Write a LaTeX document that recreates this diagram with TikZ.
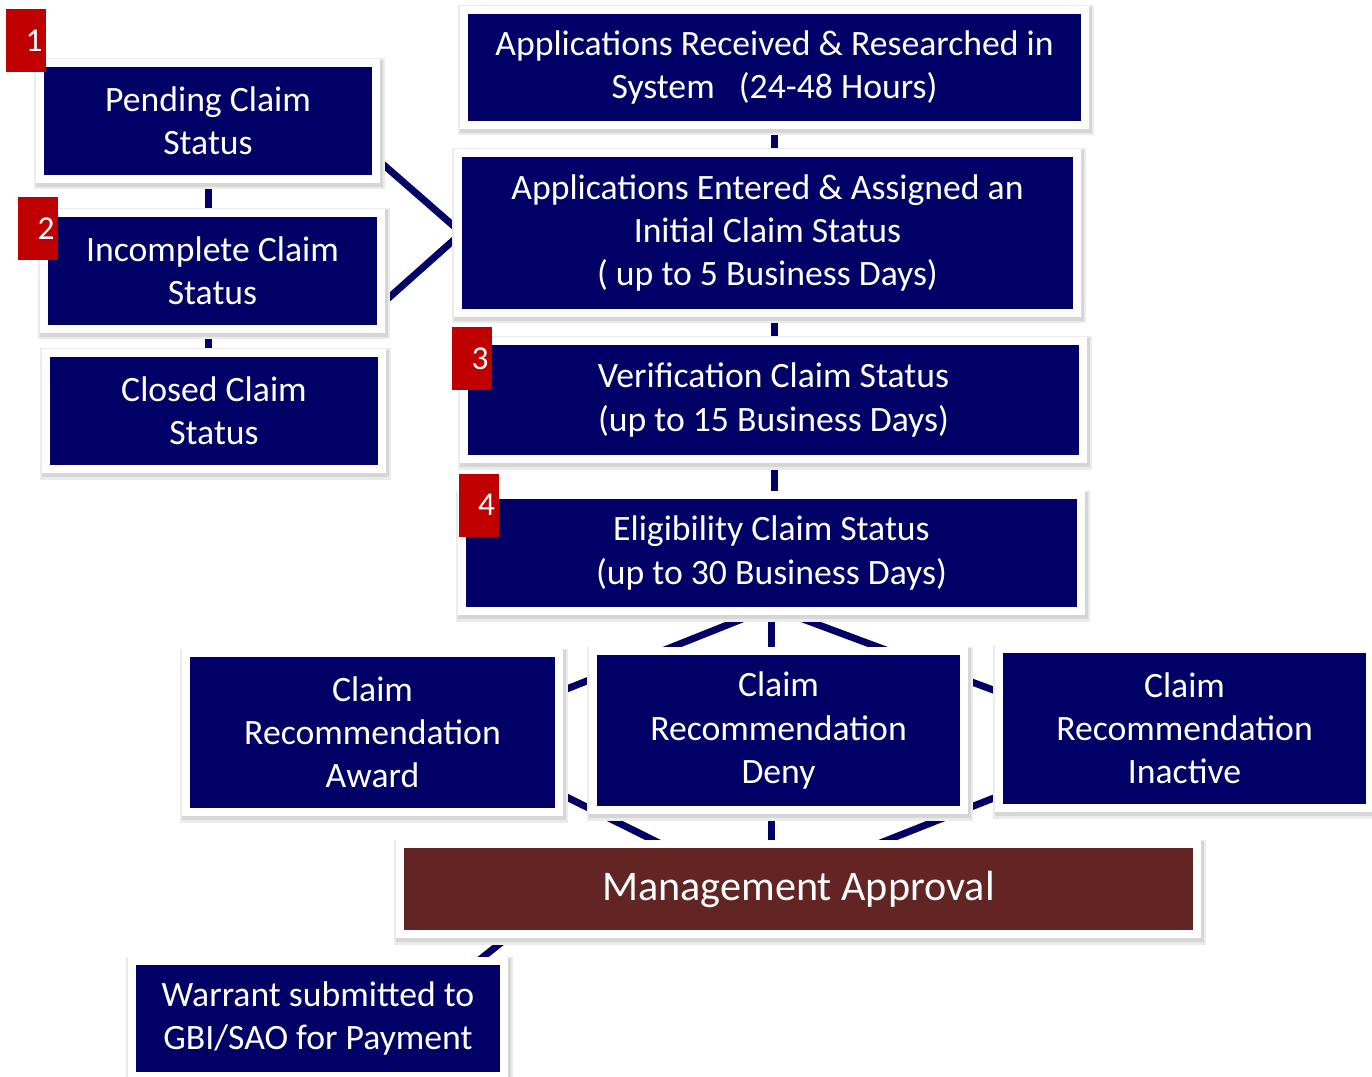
\documentclass[tikz,border=0pt]{standalone}
\usepackage{fontspec}
\setmainfont{Carlito}
\usetikzlibrary{backgrounds}
\definecolor{claimnavy}{RGB}{0,0,102}
\definecolor{mgmtbrown}{RGB}{99,37,35}
\definecolor{badgered}{RGB}{192,0,0}

\begin{document}
\begin{tikzpicture}[
    box/.style={rectangle, fill=claimnavy, text=white, align=center, inner sep=0pt,
        font=\fontsize{20.3}{24.5}\selectfont,
        preaction={draw=black!8, line width=0.46cm, transform canvas={xshift=0.03cm, yshift=-0.06cm}},
        preaction={draw=black!16, line width=0.38cm, transform canvas={xshift=0.02cm, yshift=-0.05cm}},
        preaction={draw=white, line width=0.32cm}},
    mgmtbox/.style={box, fill=mgmtbrown, font=\fontsize{24}{28}\selectfont},
    badge/.style={rectangle, fill=badgered, text=white, inner sep=0pt, minimum width=0.8cm,
        minimum height=1.26cm, text width=0.66cm, align=right, font=\fontsize{19}{20}\selectfont},
    link/.style={draw=claimnavy, line width=0.14cm}]
    \path[use as bounding box, clip] (0,0) rectangle (27.44,-21.54);

    % Left column
    \node[box, minimum width=6.56cm, minimum height=2.16cm] (pend) at (4.16,-2.42) {Pending Claim\\Status};
    \node[box, minimum width=6.58cm, minimum height=2.16cm] (incomp) at (4.25,-5.42) {Incomplete Claim\\Status};
    \node[box, minimum width=6.56cm, minimum height=2.16cm] (closed) at (4.28,-8.22) {Closed Claim\\Status};

    % Right column
    \node[box, minimum width=12.26cm, minimum height=2.14cm] (received) at (15.49,-1.35) {Applications Received \& Researched in\\System~~~(24-48 Hours)};
    \node[box, minimum width=12.22cm, minimum height=3.04cm] (entered) at (15.35,-4.66) {Applications Entered \& Assigned an\\Initial Claim Status\\( up to 5 Business Days)};
    \node[box, minimum width=12.22cm, minimum height=2.2cm] (verif) at (15.47,-8.0) {Verification Claim Status\\(up to 15 Business Days)};
    \node[box, minimum width=12.22cm, minimum height=2.16cm] (elig) at (15.43,-11.06) {Eligibility Claim Status\\(up to 30 Business Days)};

    % Recommendations
    \node[box, minimum width=7.3cm, minimum height=3.02cm] (award) at (7.45,-14.65) {Claim\\Recommendation\\Award};
    \node[box, minimum width=7.26cm, minimum height=3.02cm] (deny) at (15.57,-14.61) {Claim\\Recommendation\\Deny};
    \node[box, minimum width=7.26cm, minimum height=3.02cm] (inactive) at (23.69,-14.57) {Claim\\Recommendation\\Inactive};

    % Approval and payment
    \node[mgmtbox, minimum width=15.78cm, minimum height=1.64cm] (mgmt) at (15.97,-17.78) {Management Approval};
    \node[box, minimum width=7.28cm, minimum height=2.14cm] (warrant) at (6.36,-20.37) {Warrant submitted to\\GBI/SAO for Payment};

    % Step numbers
    \node[badge] (num1) at (0.52,-0.81) {1};
    \node[badge] (num2) at (0.76,-4.57) {2};
    \node[badge] (num3) at (9.44,-7.17) {3};
    \node[badge] (num4) at (9.57,-10.10) {4};

    % Connections
    \begin{scope}[on background layer]
        \draw[link] (pend) -- (pend |- closed);
        \draw[link] ([yshift=-0.68cm]pend.east) -- (entered.west);
        \draw[link] ([yshift=-0.74cm]incomp.east) -- (entered.west);
        \draw[link] (received) -- (received |- elig);
        \draw[link] (elig.south) -- ([yshift=0.78cm]award.east);
        \draw[link] (elig) -- (elig |- mgmt);
        \draw[link] (elig.south) -- ([yshift=0.7cm]inactive.west);
        \draw[link] ([yshift=-1.18cm]award.east) -- ([xshift=-2.6cm]mgmt.north);
        \draw[link] ([yshift=-1.32cm]inactive.west) -- ([xshift=1.4cm]mgmt.north);
        \draw[link] ([xshift=2.26cm]mgmt.south west) -- ([xshift=-0.54cm]warrant.north east);
    \end{scope}
\end{tikzpicture}
\end{document}
